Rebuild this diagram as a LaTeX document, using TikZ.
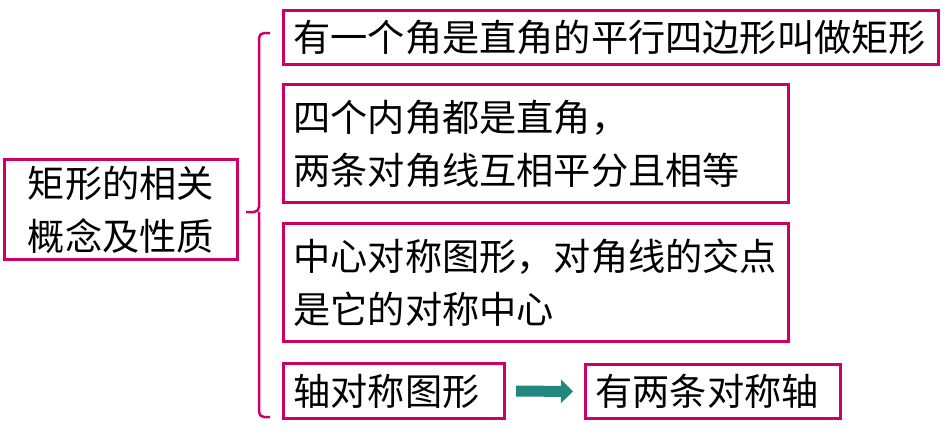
\documentclass[tikz,border=0pt]{standalone}
\usepackage{fontspec}
\setmainfont{Noto Sans CJK SC}
\usetikzlibrary{arrows.meta}
\definecolor{bordercol}{HTML}{CC0066}
\definecolor{arrowcol}{HTML}{22877F}
\tikzset{
  box/.style={draw=bordercol, line width=3pt, rectangle, anchor=north west,
    inner xsep=10pt, inner ysep=0pt, align=left,
    font=\fontsize{37.2}{53}\selectfont},
}
\begin{document}
\begin{tikzpicture}[x=1pt,y=-1pt]
\useasboundingbox (0,0) rectangle (949,434);
\node[box, align=center, inner xsep=0pt, minimum width=233pt, minimum height=100pt, text width=233pt] (main) at (3,158) {矩形的相关\\概念及性质};
\node[box, minimum width=655pt, minimum height=54pt, text width=635pt] (b1) at (282,9) {有一个角是直角的平行四边形叫做矩形};
\node[box, minimum width=505pt, minimum height=118pt, text width=485pt] (b2) at (282,83) {四个内角都是直角，\\两条对角线互相平分且相等};
\node[box, minimum width=505pt, minimum height=118pt, text width=485pt] (b3) at (282,222) {中心对称图形，对角线的交点\\是它的对称中心};
\node[box, minimum width=221pt, minimum height=55pt, text width=201pt] (b4) at (282,362) {轴对称图形};
\node[box, minimum width=255pt, minimum height=54pt, text width=235pt] (b5) at (584,363) {有两条对称轴};
% brace
\coordinate (bt) at (270,33);
\coordinate (bb) at (270,417);
\coordinate (bm) at (246,212);
\draw[bordercol, line width=2.5pt, rounded corners=5pt]
  (bt) -- (259,33) -- (259,212) -- (bm);
\draw[bordercol, line width=2.5pt, rounded corners=5pt]
  (bb) -- (259,417) -- (259,212);
% arrow
\draw[arrowcol, line width=11pt, -{Triangle[length=12pt, width=23pt]}, shorten <=10pt, shorten >=11pt]
  (b4.east) -- (b5.west);
\end{tikzpicture}
\end{document}
